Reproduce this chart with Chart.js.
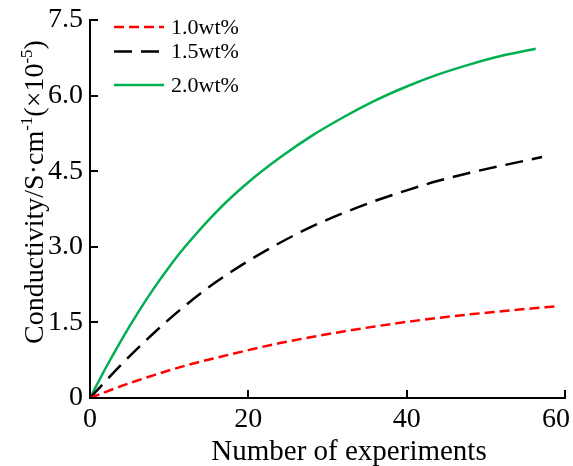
<!DOCTYPE html>
<html>
<head>
<meta charset="utf-8">
<script src="https://cdn.jsdelivr.net/npm/chart.js@4.4.1/dist/chart.umd.min.js"></script>
<style>
  html, body { margin: 0; padding: 0; background: #fff; }
  #wrap { width: 573px; height: 466px; }
</style>
</head>
<body>
<div id="wrap"><canvas id="chart" width="573" height="466"></canvas></div>
<script>
  /* values */
  const xTicks = [0, 20, 40, 60];
  const yTicks = [0, 1.5, 3.0, 4.5, 6.0, 7.5];

  const labels = ["1.0wt%", "1.5wt%", "2.0wt%"];
  const xTitle = "Number of experiments";

  const redX = [0, 4, 8, 12, 16, 20, 24, 28, 32, 36, 40, 44, 48, 52, 56, 58.9];
  const redY = [0, 0.24, 0.45, 0.64, 0.80, 0.95, 1.09, 1.21, 1.32, 1.42, 1.51, 1.59, 1.66, 1.72, 1.78, 1.82];

  const blackX = [0, 4, 8, 12, 16, 20, 24, 28, 32, 36, 40, 44, 48, 52, 57.1];
  const blackY = [0, 0.67, 1.28, 1.83, 2.31, 2.72, 3.08, 3.40, 3.67, 3.91, 4.12, 4.31, 4.47, 4.61, 4.78];

  const greenX = [0, 2, 4, 6, 8, 10, 12, 16, 20, 24, 28, 32, 36, 40, 44, 48, 52, 56.3];
  const greenY = [0, 0.60, 1.16, 1.68, 2.16, 2.60, 3.00, 3.70, 4.28, 4.77, 5.20, 5.57, 5.90, 6.18, 6.42, 6.62, 6.79, 6.93];

  const FONT = "'Liberation Serif', 'Times New Roman', serif";

  function pts(xs, ys) {
    return xs.map(function (x, i) { return { x: x, y: ys[i] }; });
  }

  /* ticks pointing inward, x tick labels, axis titles, legend */
  const decor = {
    id: "decor",
    afterDraw(chart) {
      const ctx = chart.ctx;
      const xs = chart.scales.x, ys = chart.scales.y;
      const a = chart.chartArea;
      ctx.save();
      ctx.strokeStyle = "#000";
      ctx.lineWidth = 2;
      ctx.setLineDash([]);
      xTicks.forEach(function (v) {
        const p = Math.round(xs.getPixelForValue(v));
        ctx.beginPath(); ctx.moveTo(p, a.bottom); ctx.lineTo(p, a.bottom - 8); ctx.stroke();
      });
      yTicks.forEach(function (v) {
        const p = Math.round(ys.getPixelForValue(v));
        ctx.beginPath(); ctx.moveTo(a.left, p); ctx.lineTo(a.left + 8, p); ctx.stroke();
      });

      // x tick labels (kept inside the canvas like the reference)
      ctx.fillStyle = "#000";
      ctx.font = "28px " + FONT;
      ctx.textBaseline = "alphabetic";
      ctx.textAlign = "left";
      xTicks.forEach(function (v) {
        const t = String(v);
        const w = ctx.measureText(t).width;
        let left = xs.getPixelForValue(v) - w / 2;
        if (left + w > chart.width - 3) left = chart.width - 3 - w;
        ctx.fillText(t, left, 427);
      });

      // x axis title
      ctx.font = "29px " + FONT;
      ctx.textAlign = "center";
      ctx.fillText(xTitle, 349, 460);
      ctx.textAlign = "left";

      // y axis title
      const big = "28px " + FONT, small = "17px " + FONT;
      const parts = [
        ["Conductivity/S\u00B7cm", big, 0],
        ["-1", small, -11],
        ["(\u00D710", big, 0],
        ["-5", small, -11],
        [")", big, 0]
      ];
      let total = 0;
      parts.forEach(function (p) { ctx.font = p[1]; total += ctx.measureText(p[0]).width; });
      ctx.save();
      ctx.translate(43, 192);
      ctx.rotate(-Math.PI / 2);
      let cx = -total / 2;
      parts.forEach(function (p) {
        ctx.font = p[1];
        ctx.fillText(p[0], cx, p[2]);
        cx += ctx.measureText(p[0]).width;
      });
      ctx.restore();

      // legend
      const rows = [27, 51.5, 85];
      ctx.font = "22px " + FONT;
      ctx.textBaseline = "middle";
      chart.data.datasets.forEach(function (ds, i) {
        ctx.strokeStyle = ds.borderColor;
        ctx.lineWidth = ds.borderWidth;
        ctx.setLineDash(ds.borderDash || []);
        ctx.beginPath(); ctx.moveTo(114, rows[i]); ctx.lineTo(164, rows[i]); ctx.stroke();
        ctx.setLineDash([]);
        ctx.fillStyle = "#000";
        ctx.fillText(ds.label, 171, rows[i] + 1);
      });
      ctx.restore();
    }
  };

  new Chart(document.getElementById("chart"), {
    type: "line",
    data: {
      datasets: [
        { label: labels[0], data: pts(redX, redY), borderColor: "#ff0000", borderWidth: 2.5, borderDash: [10, 5] },
        { label: labels[1], data: pts(blackX, blackY), borderColor: "#000000", borderWidth: 2.5, borderDash: [18, 9] },
        { label: labels[2], data: pts(greenX, greenY), borderColor: "#00b050", borderWidth: 2.5 }
      ]
    },
    options: {
      responsive: false,
      devicePixelRatio: 1,
      animation: false,
      clip: false,
      layout: { padding: { left: 0, top: 20, right: 8, bottom: 0 } },
      elements: {
        point: { radius: 0 },
        line: { cubicInterpolationMode: "monotone", fill: false }
      },
      plugins: { legend: { display: false }, tooltip: { enabled: false } },
      scales: {
        x: {
          type: "linear", min: 0, max: 60,
          afterBuildTicks: function (s) { s.ticks = xTicks.map(function (v) { return { value: v }; }); },
          afterFit: function (s) { s.height = 68; s.paddingLeft = 0; s.paddingRight = 0; },
          grid: { display: false, drawTicks: false },
          border: { display: true, color: "#000", width: 2 },
          ticks: { display: false }
        },
        y: {
          type: "linear", min: 0, max: 7.5,
          afterBuildTicks: function (s) { s.ticks = yTicks.map(function (v) { return { value: v }; }); },
          afterFit: function (s) { s.width = 90; s.paddingTop = 0; s.paddingBottom = 0; },
          grid: { display: false, drawTicks: false },
          border: { display: true, color: "#000", width: 2 },
          ticks: {
            color: "#000", padding: 7, font: { family: FONT, size: 28 },
            callback: function (v) { return v === 0 ? "0" : v.toFixed(1); }
          }
        }
      }
    },
    plugins: [decor]
  });
</script>
</body>
</html>
